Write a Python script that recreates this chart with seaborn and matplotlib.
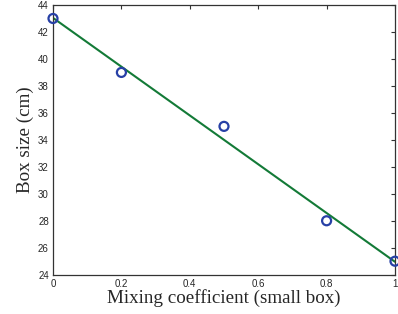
import numpy as np
import pandas as pd
import matplotlib
matplotlib.use('Agg')
import matplotlib.pyplot as plt
import seaborn as sns

# Datos
mixing = [0.0, 0.2, 0.5, 0.8, 1.0]
box_size = [43, 39, 35, 28, 25]
xticks = [0, 0.2, 0.4, 0.6, 0.8, 1]
yticks = [24, 26, 28, 30, 32, 34, 36, 38, 40, 42, 44]

df = pd.DataFrame({'mixing': mixing, 'size': box_size})

sns.set_style('white')
plt.rcParams['font.family'] = ['Liberation Sans', 'DejaVu Sans']

fig = plt.figure(figsize=(3.98, 3.14), dpi=100)
ax = fig.add_axes([53 / 398, 1 - 274.7 / 314, (395 - 53) / 398, (274.7 - 5) / 314])
ax.set_xlim(0, 1)
ax.set_ylim(24, 44)

# recta de ajuste
sns.regplot(data=df, x='mixing', y='size', ax=ax, ci=None, scatter=False,
            line_kws={'color': '#137a37', 'lw': 1.5})
# puntos medidos
sns.scatterplot(data=df, x='mixing', y='size', ax=ax, marker='o', s=42,
                facecolor='none', edgecolor='#2740a6', linewidth=1.6, clip_on=False, zorder=3)

ax.set_xlim(0, 1)
ax.set_ylim(24, 44)
ax.set_xticks(xticks)
ax.set_xticklabels(['0', '0.2', '0.4', '0.6', '0.8', '1'])
ax.set_yticks(yticks)
ax.tick_params(direction='in', length=3, width=0.8, labelsize=7, color='#333333',
               top=True, right=True, pad=3)
for s in ax.spines.values():
    s.set_color('#333333')
    s.set_linewidth(0.9)

ax.set_xlabel('Mixing coefficient (small box)', family='Liberation Serif', fontsize=13.7, labelpad=0)
ax.set_ylabel('Box size (cm)', family='Liberation Serif', fontsize=13.7, labelpad=3)

fig.savefig('out.png', dpi=100)
